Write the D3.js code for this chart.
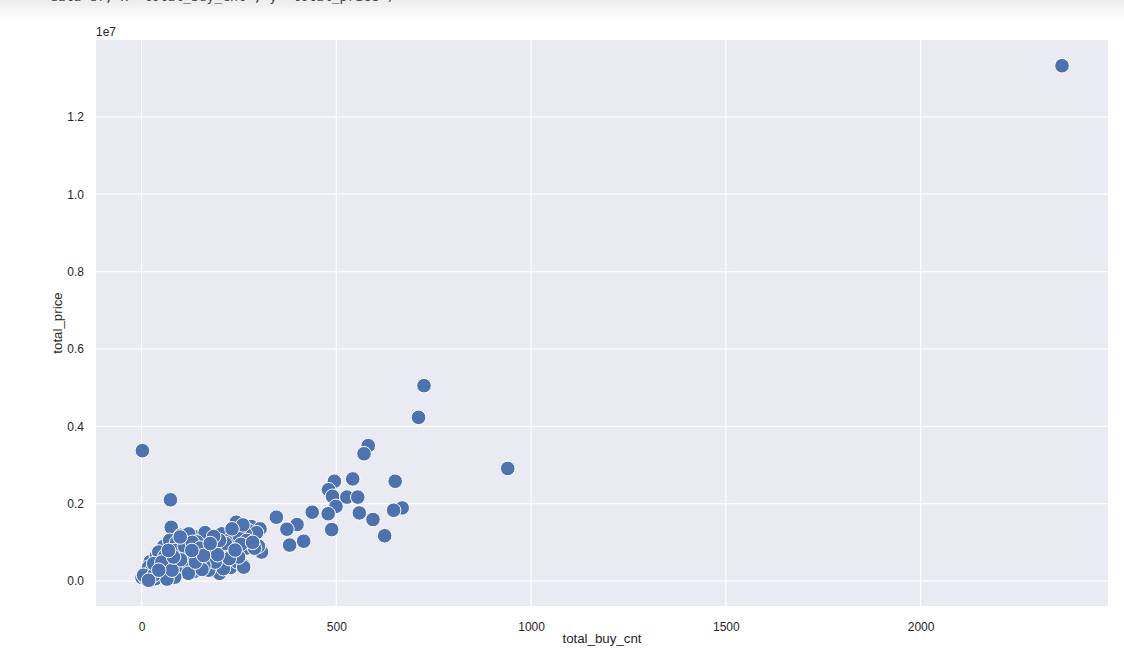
<!DOCTYPE html>
<meta charset="utf-8">
<script src="https://d3js.org/d3.v7.min.js"></script>
<style>
  body { margin: 0; background: #fff; overflow: hidden; }
  text { font-family: "Liberation Sans", Arial, sans-serif; }
</style>
<div id="chart"></div>
<script>

  // values (price in raw units, shown on axis as x 1e7)
  const totalBuyCnt = [
    2363, 725, 711, 582, 571, 940, 2, 74, 76, 495, 542, 651, 480, 490, 527, 555,
    499, 479, 559, 594, 669, 647, 438, 488, 624, 346, 399, 373, 416, 380, 281, 304,
    279, 289, 308, 263,
    22, 38, 57, 72, 90, 108, 118, 135, 148, 165, 170, 183, 198, 205, 218, 228,
    238, 245, 252, 268, 275, 295, 300, 115, 90, 75, 40, 12, 135, 200, 245,
    243, 163, 206, 230, 100, 121, 142, 112, 179, 233, 290, 262, 142, 48, 61, 1,
    35, 95, 172, 210, 86, 189, 249, 215, 69, 52, 18, 44, 121, 189, 266,
    250, 270, 255, 200, 225, 160, 110, 130, 150, 195, 240, 100, 60, 25, 10, 285,
    260, 232, 185, 155, 120, 85, 65,
    5, 31, 31, 52, 78, 82, 99, 138, 159, 176, 18, 44, 69, 129
  ];
  const totalPrice = [
    13320000, 5050000, 4230000, 3500000, 3290000, 2910000, 3370000, 2100000, 1390000, 2580000, 2640000, 2580000, 2360000, 2190000, 2170000, 2170000,
    1930000, 1740000, 1760000, 1590000, 1890000, 1830000, 1780000, 1330000, 1170000, 1650000, 1460000, 1340000, 1030000, 930000, 1410000, 1350000,
    1120000, 880000, 750000, 390000,
    500000, 650000, 900000, 1050000, 1000000, 650000, 1050000, 1150000, 700000, 950000, 500000, 350000, 900000, 450000, 1100000, 350000,
    1000000, 1250000, 700000, 850000, 1300000, 1250000, 900000, 350000, 450000, 550000, 400000, 250000, 250000, 200000, 500000,
    1520000, 1250000, 1220000, 1110000, 1180000, 1220000, 1010000, 710000, 680000, 750000, 850000, 360000, 530000, 580000, 360000, 90000,
    60000, 280000, 280000, 320000, 790000, 880000, 620000, 970000, 450000, 230000, 360000, 750000, 450000, 490000, 1220000,
    1180000, 1050000, 950000, 1050000, 580000, 400000, 900000, 1000000, 850000, 680000, 800000, 550000, 650000, 250000, 80000, 1000000,
    1450000, 1350000, 1150000, 300000, 200000, 100000, 50000,
    150000, 150000, 450000, 490000, 280000, 620000, 1140000, 490000, 660000, 970000, 20000, 280000, 790000, 790000
  ];
  const xTicks = [0, 500, 1000, 1500, 2000];
  const yTicks = [0, 2000000, 4000000, 6000000, 8000000, 10000000, 12000000];

  const W = 1124, H = 661;
  const margin = {top: 40, right: 16, bottom: 55, left: 96};
  const width = W - margin.left - margin.right,
        height = H - margin.top - margin.bottom;

  const svg = d3.select("#chart").append("svg")
      .attr("width", W)
      .attr("height", H);

  // notebook cell edge at the top of the screenshot
  const grad = svg.append("defs").append("linearGradient")
      .attr("id", "shade").attr("x1", 0).attr("x2", 0).attr("y1", 0).attr("y2", 1);
  grad.append("stop").attr("offset", "0%").attr("stop-color", "#ececec");
  grad.append("stop").attr("offset", "100%").attr("stop-color", "#ffffff");
  svg.append("rect").attr("x", 0).attr("y", 0).attr("width", W).attr("height", 20).attr("fill", "url(#shade)");
  svg.append("text")
      .attr("x", 50).attr("y", 1)
      .style("font-family", "'DejaVu Sans Mono', monospace")
      .style("font-size", "13px")
      .attr("fill", "#444")
      .text("data=df, x='total_buy_cnt', y='total_price')");

  const g = svg.append("g")
      .attr("transform", "translate(" + margin.left + "," + margin.top + ")");

  // seaborn-like 5% padding on the data range
  const xExt = d3.extent(totalBuyCnt), yExt = d3.extent(totalPrice);
  const xPad = (xExt[1] - xExt[0]) * 0.05, yPad = (yExt[1] - yExt[0]) * 0.05;

  const x = d3.scaleLinear()
      .domain([xExt[0] - xPad, xExt[1] + xPad])
      .range([0, width]);
  const y = d3.scaleLinear()
      .domain([yExt[0] - yPad, yExt[1] + yPad])
      .range([height, 0]);

  g.append("rect")
      .attr("width", width).attr("height", height)
      .attr("fill", "#eaeaf2");

  // grid
  g.append("g").selectAll("line").data(xTicks).join("line")
      .attr("x1", d => x(d)).attr("x2", d => x(d))
      .attr("y1", 0).attr("y2", height)
      .attr("stroke", "#fff").attr("stroke-width", 1.2);
  g.append("g").selectAll("line").data(yTicks).join("line")
      .attr("x1", 0).attr("x2", width)
      .attr("y1", d => y(d)).attr("y2", d => y(d))
      .attr("stroke", "#fff").attr("stroke-width", 1.2);

  // axes (no spines, no tick marks, like darkgrid)
  const xAxis = g.append("g")
      .attr("transform", "translate(0," + height + ")")
      .call(d3.axisBottom(x).tickValues(xTicks).tickSize(0).tickPadding(16).tickFormat(d3.format("d")));
  const yAxis = g.append("g")
      .call(d3.axisLeft(y).tickValues(yTicks).tickSize(0).tickPadding(12).tickFormat(d => (d / 1e7).toFixed(1)));
  [xAxis, yAxis].forEach(a => {
    a.select(".domain").remove();
    a.selectAll("text")
      .style("font-family", "'Liberation Sans', Arial, sans-serif")
      .style("font-size", "12px")
      .attr("fill", "#262626");
  });

  // offset text
  g.append("text")
      .attr("x", 0).attr("y", -4)
      .style("font-size", "12px")
      .attr("fill", "#262626")
      .text("1e7");

  // axis labels
  g.append("text")
      .attr("x", width / 2).attr("y", height + 37)
      .attr("text-anchor", "middle")
      .style("font-size", "13.3px")
      .attr("fill", "#262626")
      .text("total_buy_cnt");
  g.append("text")
      .attr("transform", "translate(" + (-34) + "," + (height / 2) + ") rotate(-90)")
      .attr("text-anchor", "middle")
      .style("font-size", "13.3px")
      .attr("fill", "#262626")
      .text("total_price");

  // points
  const pts = totalBuyCnt.map((c, i) => ({cnt: c, price: totalPrice[i]}));
  g.append("g").selectAll("circle").data(pts).join("circle")
      .attr("cx", d => x(d.cnt))
      .attr("cy", d => y(d.price))
      .attr("r", 7.3)
      .attr("fill", "#4c72b0")
      .attr("stroke", "#fff")
      .attr("stroke-width", 1);

</script>
